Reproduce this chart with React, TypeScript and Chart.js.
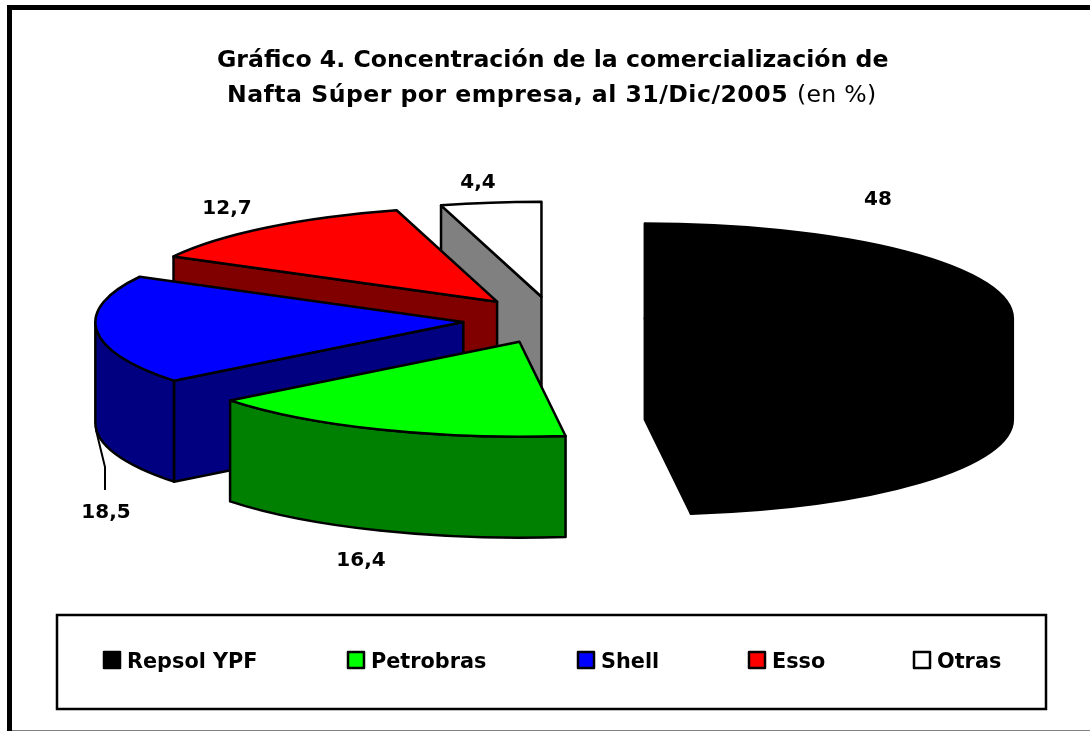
import React, { useEffect, useRef } from "react";
import { Chart, registerables } from "chart.js";

Chart.register(...registerables);

const categories = ["Repsol YPF", "Petrobras", "Shell", "Esso", "Otras"];
const values = [48, 16.4, 18.5, 12.7, 4.4];
const valueLabels = ["48", "16,4", "18,5", "12,7", "4,4"];
const topColors = ["#000000", "#00FF00", "#0000FF", "#FF0000", "#FFFFFF"];
const sideColors = ["#000000", "#008000", "#000080", "#800000", "#808080"];
const labelPositions = [
  [878, 205],
  [361, 566],
  [106, 518],
  [227, 214],
  [478, 188],
];
const legendX = [103, 347, 577, 748, 913];

const TILT = 95 / 368;
const DEPTH = 101;
const EXPLODE = 91;
const FONT = '"DejaVu Sans", Verdana, sans-serif';

const pie3d = {
  id: "pie3d",
  beforeDatasetsDraw(chart: any) {
    const { ctx } = chart;
    const arcs = chart.getDatasetMeta(0).data;
    ctx.save();
    ctx.lineWidth = 2.5;
    ctx.strokeStyle = "#000";
    ctx.lineJoin = "round";
    // back-to-front painting order
    const order = [4, 3, 2, 1, 0];
    for (const i of order) {
      const a = arcs[i].getProps(["x", "y", "startAngle", "endAngle", "outerRadius"]);
      const mid = (a.startAngle + a.endAngle) / 2;
      const ox = a.x + Math.cos(mid) * EXPLODE;
      const oy = a.y + Math.sin(mid) * EXPLODE * TILT;
      const r = a.outerRadius;
      const ry = r * TILT;
      const fill = (c: string) => {
        ctx.fillStyle = c;
        ctx.fill();
        ctx.stroke();
      };
      const cutFace = (t: number) => {
        const px = ox + Math.cos(t) * r;
        const py = oy + Math.sin(t) * ry;
        ctx.beginPath();
        ctx.moveTo(ox, oy);
        ctx.lineTo(px, py);
        ctx.lineTo(px, py + DEPTH);
        ctx.lineTo(ox, oy + DEPTH);
        ctx.closePath();
        fill(sideColors[i]);
      };
      // cut faces that look towards the viewer
      if (Math.cos(a.startAngle) < 0) cutFace(a.startAngle);
      if (Math.cos(a.endAngle) > 0) cutFace(a.endAngle);
      // outer wall: only the part of the rim in the front half
      const wallStart = Math.max(a.startAngle, 0);
      const wallEnd = Math.min(a.endAngle, Math.PI);
      if (wallEnd > wallStart) {
        ctx.beginPath();
        ctx.ellipse(ox, oy, r, ry, 0, wallStart, wallEnd);
        ctx.ellipse(ox, oy + DEPTH, r, ry, 0, wallEnd, wallStart, true);
        ctx.closePath();
        fill(sideColors[i]);
      }
      // top face
      ctx.beginPath();
      ctx.moveTo(ox, oy);
      ctx.ellipse(ox, oy, r, ry, 0, a.startAngle, a.endAngle);
      ctx.closePath();
      fill(topColors[i]);
    }
    ctx.restore();
    return false;
  },
  afterDraw(chart: any) {
    const { ctx, width, height } = chart;
    ctx.save();
    // outer frame
    ctx.fillStyle = "#000";
    ctx.fillRect(7, 5, width - 7, 5);
    ctx.fillRect(7, 5, 5, height - 5);
    ctx.fillStyle = "#808080";
    ctx.fillRect(12, 730, width - 12, 1);
    // title
    ctx.fillStyle = "#000";
    ctx.textBaseline = "alphabetic";
    ctx.textAlign = "left";
    const bold = `bold 23.6px ${FONT}`;
    const normal = `23.6px ${FONT}`;
    ctx.font = bold;
    ctx.fillText("Gráfico 4. Concentración de la comercialización de", 217, 67);
    (ctx as any).letterSpacing = "0.47px";
    ctx.fillText("Nafta Súper por empresa, al 31/Dic/2005", 227, 102);
    (ctx as any).letterSpacing = "0.3px";
    ctx.font = normal;
    ctx.fillText("(en %)", 797, 102);
    (ctx as any).letterSpacing = "0px";
    // value labels
    ctx.font = `bold 20px ${FONT}`;
    ctx.textAlign = "center";
    valueLabels.forEach((t, i) => ctx.fillText(t, labelPositions[i][0], labelPositions[i][1]));
    // leader line for Shell
    ctx.strokeStyle = "#000";
    ctx.lineWidth = 2;
    ctx.beginPath();
    ctx.moveTo(96, 430);
    ctx.lineTo(105, 467);
    ctx.lineTo(105, 490);
    ctx.stroke();
    // legend
    ctx.lineWidth = 2.5;
    ctx.strokeRect(57, 615, 989, 94);
    ctx.textAlign = "left";
    ctx.lineJoin = "round";
    categories.forEach((c, i) => {
      ctx.fillStyle = topColors[i];
      ctx.lineWidth = 2.5;
      ctx.fillRect(legendX[i] + 1, 652, 16, 16);
      ctx.strokeRect(legendX[i] + 1, 652, 16, 16);
      ctx.fillStyle = "#000";
      ctx.font = `bold 20.8px ${FONT}`;
      ctx.fillText(c, legendX[i] + 24, 668);
    });
    ctx.restore();
  },
};

export default function App() {
  const ref = useRef<HTMLCanvasElement>(null);
  useEffect(() => {
    const chart = new Chart(ref.current as HTMLCanvasElement, {
      type: "pie",
      data: {
        labels: categories,
        datasets: [{ data: values, backgroundColor: topColors, borderColor: "#000", borderWidth: 2 }],
      },
      options: {
        responsive: false,
        animation: false,
        events: [],
        radius: 368,
        layout: { padding: { left: 18, bottom: 91 } },
        plugins: { legend: { display: false }, title: { display: false }, tooltip: { enabled: false } },
      } as any,
      plugins: [pie3d],
    });
    return () => chart.destroy();
  }, []);
  return (
    <canvas
      ref={ref}
      width={1090}
      height={731}
      style={{ position: "absolute", left: 0, top: 0, width: 1090, height: 731, display: "block", background: "#fff" }}
    />
  );
}
